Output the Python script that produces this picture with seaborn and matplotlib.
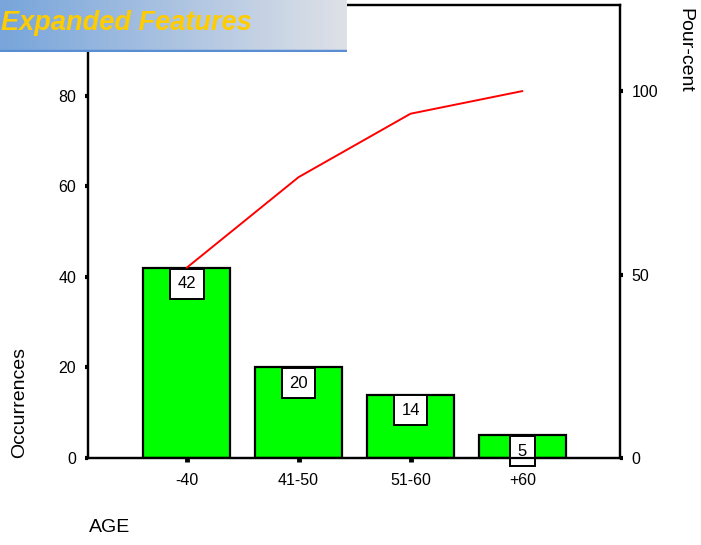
import numpy as np
import pandas as pd
import matplotlib
matplotlib.use("Agg")
import matplotlib.pyplot as plt
import seaborn as sns

# Age groups and their counts
age_groups = ["-40", "41-50", "51-60", "+60"]
occurrences = [42, 20, 14, 5]
left_ticks = [0, 20, 40, 60, 80]
right_ticks = [0, 50, 100]

sns.set_style("white")
plt.rcParams["font.family"] = ["Liberation Sans", "DejaVu Sans"]
plt.rcParams["text.color"] = "black"
plt.rcParams["xtick.color"] = "black"
plt.rcParams["ytick.color"] = "black"

df = pd.DataFrame({"AGE": age_groups, "count": occurrences})
total = sum(occurrences)
cum_pct = np.cumsum(occurrences) / total * 100

W, H = 701, 545
fig = plt.figure(figsize=(W / 100, H / 100), dpi=100)
ax = fig.add_axes([88 / W, 1 - 458 / H, (620 - 88) / W, (458 - 5) / H])

sns.barplot(data=df, x="AGE", y="count", color="#00ff00", saturation=1,
            edgecolor="black", linewidth=1.6, width=0.78, ax=ax)

ymax = 100
ax.set_ylim(0, ymax)
ax.set_xlim(-0.882, 3.872)
ax.set_yticks(left_ticks)
ax.set_xlabel("")
ax.set_ylabel("")

# Count labels in boxes at the top of each bar
for i, v in enumerate(occurrences):
    ax.annotate(str(v), xy=(i, v), xytext=(0, -6), textcoords="offset points",
                ha="center", va="top", fontsize=12, zorder=5,
                bbox=dict(boxstyle="square,pad=0.45", fc="white", ec="black", lw=1.4))

# Cumulative percentage on the secondary axis
ax2 = ax.twinx()
sns.lineplot(x=np.arange(len(age_groups)), y=cum_pct, color="red", lw=1.4, ax=ax2)
ax2.set_ylim(0, 100 * ymax / total)
ax2.set_yticks(right_ticks)
ax2.set_xlim(-0.882, 3.872)
ax2.set_ylabel("")

for a in (ax, ax2):
    for s in a.spines.values():
        s.set_visible(True)
        s.set_color("black")
        s.set_linewidth(1.6)

ax.tick_params(axis="y", direction="out", length=2.5, width=3, pad=6, labelsize=11.5,
               left=True, colors="black")
ax.tick_params(axis="x", direction="out", length=3, width=3.5, pad=8, labelsize=11.5,
               bottom=True, colors="black")
ax2.tick_params(axis="y", direction="out", length=2.5, width=3, pad=6, labelsize=11.5,
                right=True, colors="black")

fig.text(20 / W, 1 - 458 / H, "Occurrences", rotation=90, ha="center", va="bottom", fontsize=14)
fig.text(685 / W, 1 - 8 / H, "Pour-cent", rotation=270, ha="center", va="top", fontsize=14)
fig.text(89 / W, 1 - 528 / H, "AGE", ha="left", va="center", fontsize=14)

# Title banner with horizontal gradient
bax = fig.add_axes([0, 1 - 52 / H, 347 / W, 52 / H])
c0 = np.array([0x78, 0xa5, 0xdb]) / 255
c1 = np.array([0xde, 0xe1, 0xe7]) / 255
t = np.linspace(0, 1, 256)[None, :, None]
grad = c0 + (c1 - c0) * t
bax.imshow(grad, aspect="auto", extent=[0, 1, 0, 1])
bax.axhline(0.02, color="#5a8ed2", lw=2.5)
bax.set_xlim(0, 1)
bax.set_ylim(0, 1)
bax.axis("off")
bax.text(0.004, 0.56, "Expanded Features", color="#ffcc00", fontsize=19.5,
         fontweight="bold", fontstyle="italic", ha="left", va="center",
         transform=bax.transAxes)

fig.savefig("out.png", dpi=100)
